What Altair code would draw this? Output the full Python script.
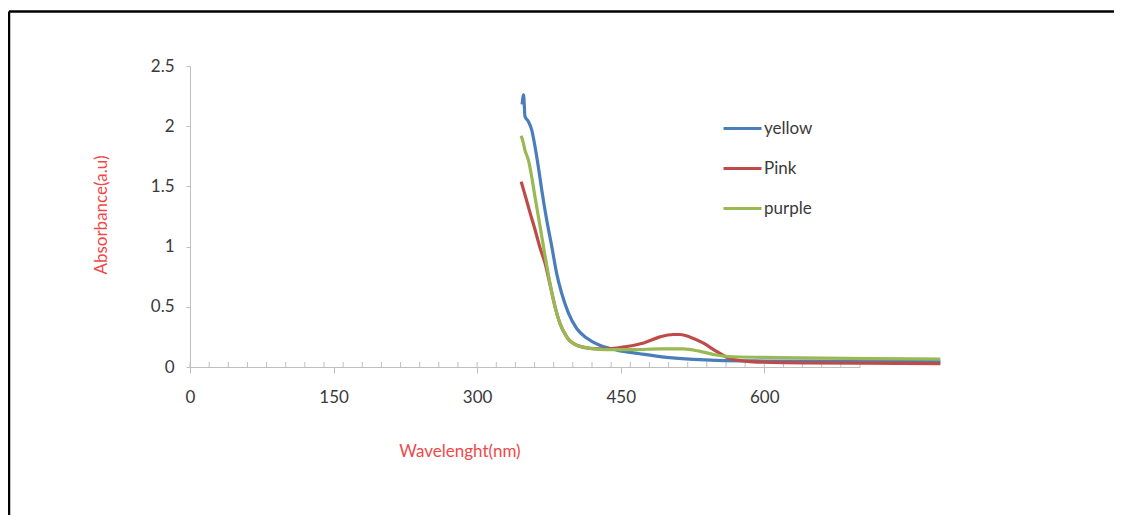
import altair as alt
import pandas as pd

# ---- data ----
yellow_x = [347, 348.5, 350, 353.5, 357, 360.5, 364, 367.5, 372.7, 378, 383, 388.4, 395.3, 404, 414.5,
            428, 446, 470, 498, 526, 550, 600, 650, 700, 784]
yellow_y = [2.18, 2.26, 2.08, 2.04, 1.97, 1.83, 1.66, 1.47, 1.22, 1.00, 0.78, 0.61, 0.45, 0.32, 0.24,
            0.18, 0.14, 0.11, 0.08, 0.063, 0.055, 0.05, 0.048, 0.046, 0.045]

pink_x = [346, 350, 355.3, 360.5, 365.7, 371, 376, 381.4, 386.6, 393.6, 404, 418, 435, 456, 474, 491,
          505, 512, 522, 536, 550, 564, 585, 620, 700, 784]
pink_y = [1.54, 1.43, 1.28, 1.14, 0.99, 0.86, 0.69, 0.50, 0.36, 0.25, 0.18, 0.155, 0.15, 0.17, 0.20, 0.25,
          0.27, 0.27, 0.25, 0.20, 0.13, 0.07, 0.045, 0.036, 0.033, 0.028]

purple_x = [346, 348.3, 350, 353.5, 357, 360.5, 365.7, 371, 376, 381.4, 386.6, 393.6, 404, 418, 435,
            463, 491, 515, 533, 550, 567, 637, 707, 784]
purple_y = [1.92, 1.86, 1.80, 1.72, 1.58, 1.41, 1.17, 0.92, 0.70, 0.50, 0.36, 0.25, 0.18, 0.155, 0.145,
            0.145, 0.15, 0.15, 0.13, 0.10, 0.085, 0.077, 0.07, 0.065]

series = ["yellow", "Pink", "purple"]
colors = ["#4a7ebb", "#be4b48", "#98b954"]

x_tick_values = [0, 150, 300, 450, 600]
x_minor_ticks = list(range(0, 701, 20))
y_tick_values = [0, 0.5, 1, 1.5, 2, 2.5]

rows = []
for name, xs, ys in [("yellow", yellow_x, yellow_y), ("Pink", pink_x, pink_y), ("purple", purple_x, purple_y)]:
    for i, (a, b) in enumerate(zip(xs, ys)):
        rows.append({"wl": a, "abs": b, "series": name, "order": i})
df = pd.DataFrame(rows)

FONT = "Lato"
FS = 17
AXIS_GRAY = "#bfbfbf"
TITLE_RED = "#f04848"
TEXT = "#3a3a3a"

xscale = alt.Scale(domain=[0, 700], nice=False, zero=False)
yscale = alt.Scale(domain=[0, 2.5], nice=False)

lines = alt.Chart(df).mark_line(strokeWidth=3.2, interpolate="monotone").encode(
    x=alt.X("wl:Q", scale=xscale,
            axis=alt.Axis(values=x_tick_values, title=None, grid=False, domainColor=AXIS_GRAY,
                          tickColor=AXIS_GRAY, tickSize=6, labelFont=FONT, labelFontSize=FS,
                          labelColor=TEXT, labelPadding=16, labelFlush=False)),
    y=alt.Y("abs:Q", scale=yscale,
            axis=alt.Axis(values=y_tick_values, title=None, grid=False, format=".1~f",
                          domainColor=AXIS_GRAY, tickColor=AXIS_GRAY, tickSize=4,
                          labelFont=FONT, labelFontSize=FS, labelColor=TEXT, labelPadding=12,
                          labelFlush=False)),
    color=alt.Color("series:N", scale=alt.Scale(domain=series, range=colors),
                    legend=alt.Legend(title=None, orient="none", legendX=532, legendY=42,
                                      symbolType="stroke", symbolSize=1444, symbolStrokeWidth=3,
                                      labelFont=FONT, labelFontSize=FS, labelColor=TEXT,
                                      labelOffset=1, rowPadding=11, padding=0)),
    detail="series:N",
    order="order:Q",
)

minor = alt.Chart(pd.DataFrame({"t": x_minor_ticks})).mark_rule(color=AXIS_GRAY, strokeWidth=1).encode(
    x=alt.X("t:Q", scale=xscale),
    y=alt.value(296),
    y2=alt.value(301),
)

xtitle = alt.Chart(pd.DataFrame({"t": ["Wavelenght(nm)"]})).mark_text(
    font=FONT, fontSize=FS, color=TITLE_RED, align="center", baseline="middle"
).encode(text="t:N", x=alt.value(270), y=alt.value(386))

ytitle = alt.Chart(pd.DataFrame({"t": ["Absorbance(a.u)"]})).mark_text(
    font=FONT, fontSize=FS, color=TITLE_RED, align="center", baseline="middle", angle=270
).encode(text="t:N", x=alt.value(-88), y=alt.value(149))

frame_top = alt.Chart(pd.DataFrame({"k": [0]})).mark_rule(color="black", strokeWidth=2.5).encode(
    x=alt.value(-181), x2=alt.value(940), y=alt.value(-54.5)
)
frame_left = alt.Chart(pd.DataFrame({"k": [0]})).mark_rule(color="black", strokeWidth=2.5).encode(
    x=alt.value(-181), y=alt.value(-54.5), y2=alt.value(460)
)

chart = alt.layer(minor, lines, xtitle, ytitle, frame_top, frame_left).properties(
    width=670, height=301,
    autosize=alt.AutoSizeParams(type="none"),
    padding={"left": 182, "top": 58, "right": 254, "bottom": 148},
    background="white",
).configure_view(stroke=None)

chart.save("out.html", embed_options={"renderer": "svg", "actions": False})
